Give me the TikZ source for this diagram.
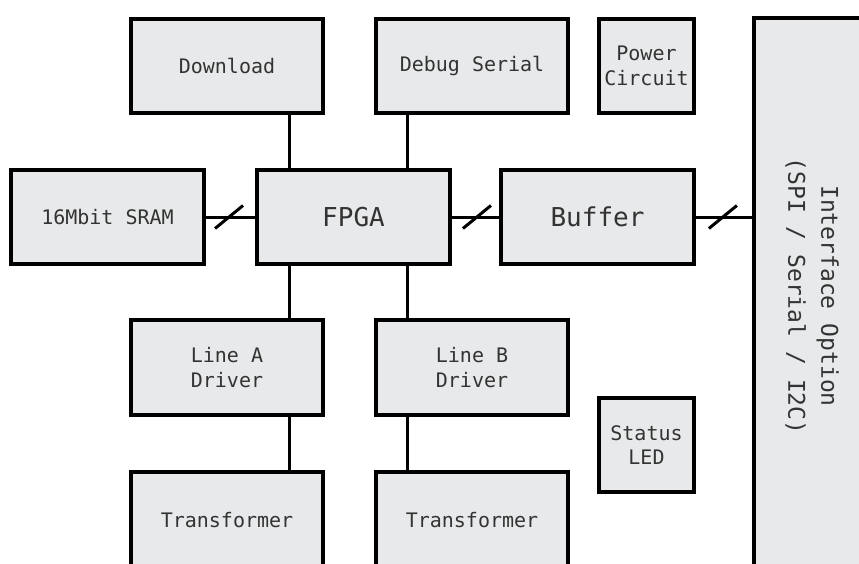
\documentclass[tikz,border=0pt]{standalone}
\usepackage{fontspec}
\setmonofont{DejaVu Sans Mono}
\definecolor{boxfill}{HTML}{E8E9EA}
\definecolor{txt}{HTML}{333333}
\tikzset{
  blk/.style={draw=black, line width=4pt, fill=boxfill, inner sep=0pt,
    font=\ttfamily\fontsize{20}{24.5}\selectfont, text=txt, align=center},
  bigtxt/.style={font=\ttfamily\fontsize{26}{30}\selectfont},
  wire/.style={draw=black, line width=3pt},
  slashmark/.style={draw=black, line width=3pt}
}
\begin{document}
\begin{tikzpicture}[x=1pt,y=-1pt]
\useasboundingbox (0,0) rectangle (859,563);
\clip (0,0) rectangle (859,563);
\fill[white] (0,0) rectangle (859,563);
% nodes
\node[blk, minimum width=192pt, minimum height=94pt] (dl) at (227,66) {Download};
\node[blk, minimum width=192pt, minimum height=94pt] (dbg) at (472,66) {Debug Serial};
\node[blk, minimum width=95pt, minimum height=94pt] (pwr) at (646.5,66) {Power\\Circuit};
\node[blk, minimum width=112pt, minimum height=580pt] (ifc) at (810,308) {};
\node[font=\ttfamily\fontsize{23}{33}\selectfont, text=txt, align=center, rotate=-90] (ifct) at (812,296) {Interface Option\\(SPI / Serial / I2C)};
\node[blk, minimum width=193pt, minimum height=94pt] (sram) at (107.5,217) {16Mbit SRAM};
\node[blk, bigtxt, minimum width=193pt, minimum height=94pt] (fpga) at (353.5,217) {FPGA};
\node[blk, bigtxt, minimum width=193pt, minimum height=94pt] (buf) at (597.5,217) {Buffer};
\node[blk, minimum width=192pt, minimum height=95pt] (la) at (227,367.5) {Line A\\Driver};
\node[blk, minimum width=192pt, minimum height=95pt] (lb) at (472,367.5) {Line B\\Driver};
\node[blk, minimum width=192pt, minimum height=96pt] (ta) at (227,520) {Transformer};
\node[blk, minimum width=192pt, minimum height=96pt] (tb) at (472,520) {Transformer};
\node[blk, minimum width=95pt, minimum height=94pt] (led) at (646.5,445) {Status\\LED};
% vertical connectors
\draw[wire] ([xshift=62pt]dl.south) -- ([xshift=62pt]dl.south |- fpga.north);
\draw[wire] ([xshift=-65pt]dbg.south) -- ([xshift=-65pt]dbg.south |- fpga.north);
\draw[wire] ([xshift=62pt]la.north) -- ([xshift=62pt]la.north |- fpga.south);
\draw[wire] ([xshift=-65pt]lb.north) -- ([xshift=-65pt]lb.north |- fpga.south);
\draw[wire] ([xshift=62pt]la.south) -- ([xshift=62pt]ta.north);
\draw[wire] ([xshift=-65pt]lb.south) -- ([xshift=-65pt]tb.north);
% bus connectors
\draw[wire] (sram.east) -- coordinate[pos=0.47] (s1) (fpga.west);
\draw[wire] (fpga.east) -- coordinate[pos=0.53] (s2) (buf.west);
\draw[wire] (buf.east) -- coordinate[pos=0.48] (s3) (buf.east -| ifc.west);
\foreach \s in {s1,s2,s3}{
  \draw[slashmark] ([shift={(-14,11.5)}]\s) -- ([shift={(14,-11.5)}]\s);
}
\end{tikzpicture}
\end{document}
